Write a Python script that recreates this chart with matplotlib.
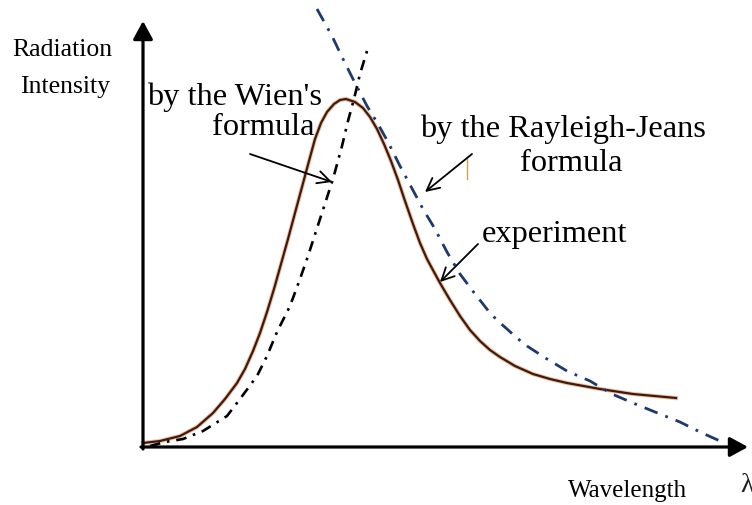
import matplotlib
matplotlib.use('Agg')
import matplotlib.pyplot as plt

plt.rcParams['font.family'] = ['Liberation Serif', 'DejaVu Serif']

# Measured spectrum (solid curve): wavelength vs. intensity, arbitrary units
exp_x = [0, 17, 37, 54, 70, 82, 94, 102, 110, 117, 124, 131, 138, 145, 152, 159,
         166, 172, 178, 184, 191, 197, 203, 212, 220, 227, 234, 241, 248, 255, 262,
         270, 277, 284, 291, 297, 307, 317, 327, 337, 347, 357, 372, 390, 407, 424,
         457, 490, 533]
exp_y = [4, 6, 11, 20, 34, 48, 64, 78, 96, 114, 135, 158, 183, 208, 234, 260,
         286, 308, 324, 335, 343, 347, 348, 345, 339, 330, 318, 303, 286, 267, 246,
         223, 204, 188, 175, 164, 147, 131, 117, 106, 97, 90, 81, 73, 68, 64,
         58, 53, 49]

# Wien's approximation
wien_x = [7, 22, 40, 60, 84, 97, 114, 124, 134, 147, 157, 165, 177, 190, 199,
          205, 211, 217, 224]
wien_y = [1, 5, 8, 16, 31, 48, 71, 91, 115, 141, 168, 191, 228, 268, 301,
          326, 348, 373, 396]

# Rayleigh-Jeans approximation
rj_x = [174, 189, 199, 210, 224, 235, 245, 257, 280, 292, 304, 317, 332, 340,
        347, 355, 364, 374, 384, 404, 424, 447, 469, 490, 512, 537, 557, 577]
rj_y = [438, 411, 390, 368, 341, 323, 305, 281, 238, 218, 195, 173, 153, 143,
        134, 126, 118, 109, 101, 88, 76, 66, 53, 44, 35, 25, 15, 6]

fig = plt.figure(figsize=(7.52, 5.06), dpi=100)
ax = fig.add_axes([0, 0, 1, 1])
ax.set_xlim(-143, 609)
ax.set_ylim(-58, 448)
ax.axis('off')

# axes with arrow heads
axis_arrow = dict(arrowstyle='-|>,head_length=0.55,head_width=0.3',
                  lw=2.3, color='black', mutation_scale=20,
                  shrinkA=0, shrinkB=0)
ax.annotate('', xy=(0, 426), xytext=(0, -2), arrowprops=axis_arrow)
ax.annotate('', xy=(605, 0), xytext=(-2, 0), arrowprops=axis_arrow)

# curves
ax.plot(exp_x, exp_y, color='#c8783a', lw=3.0, alpha=0.45,
        solid_joinstyle='round')
ax.plot(exp_x, exp_y, color='#45190a', lw=1.6, solid_joinstyle='round')
ax.plot(wien_x, wien_y, color='black', lw=1.9, linestyle=(0, (4, 2.6, 1, 2.6)))
ax.plot(rj_x, rj_y, color='#1c3a6e', lw=2.0, linestyle=(0, (5, 3, 1, 3)))

# labels
ax.text(-31, 392, 'Radiation', ha='right', va='baseline', fontsize=18.5)
ax.text(-33, 355, 'Intensity', ha='right', va='baseline', fontsize=18.5)
ax.text(425, -49, 'Wavelength', ha='left', va='baseline', fontsize=18)
ax.text(597, -44, 'λ', ha='left', va='baseline', fontsize=20, color='#222')

lab = dict(ha='left', va='baseline', fontsize=23.3)
ax.text(4, 343, "by the Wien's", **lab)
ax.text(69, 313, 'formula', **lab)
ax.text(277, 311, 'by the Rayleigh-Jeans', **lab)
ax.text(377, 277, 'formula', **lab)
ax.text(339, 206, 'experiment', **lab)

arr = dict(arrowstyle='->,head_length=0.6,head_width=0.3', lw=1.3,
           color='black', mutation_scale=15, shrinkA=0, shrinkB=0)
ax.annotate('', xy=(189, 265), xytext=(107, 293), arrowprops=arr)
ax.annotate('', xy=(282, 255), xytext=(329, 293), arrowprops=arr)
ax.annotate('', xy=(297, 165), xytext=(335, 203), arrowprops=arr)

# small stray tick beside the Rayleigh-Jeans label
ax.plot([324, 324], [268, 288], color='#d9a050', lw=1.0)

fig.savefig('out.png', dpi=100)
